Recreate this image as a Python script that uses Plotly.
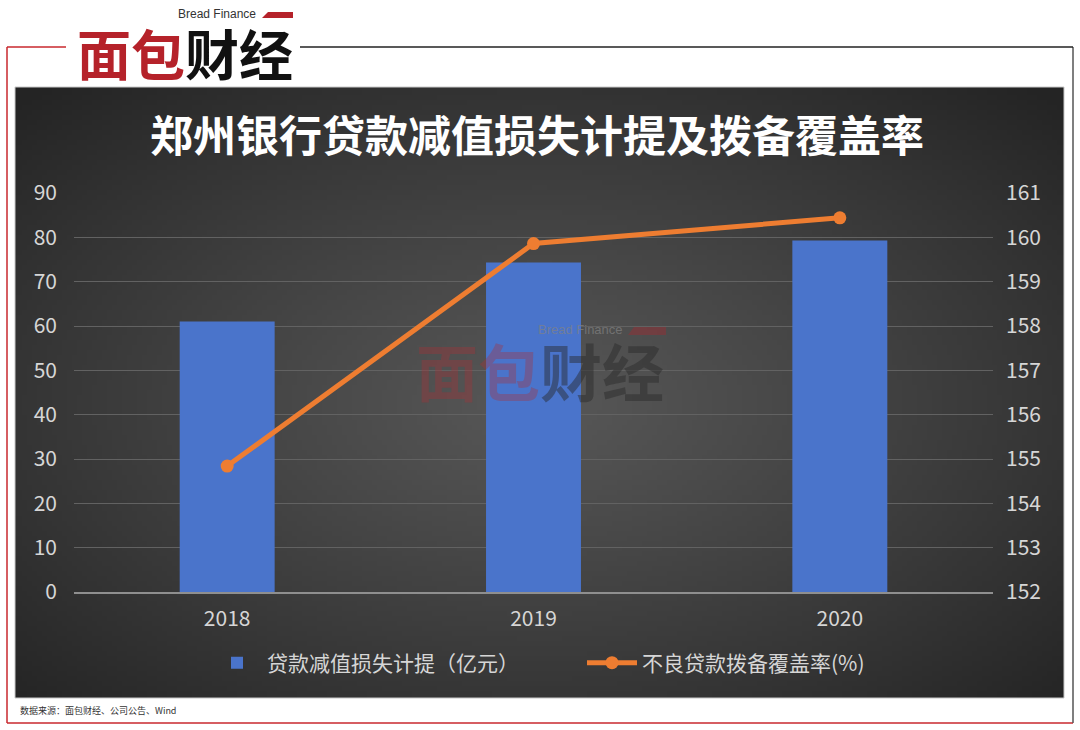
import base64, struct, zlib, math
import plotly.graph_objects as go

# ---------------- data ----------------
years = ["2018", "2019", "2020"]
impairment = [61.0, 74.3, 79.3]          # 贷款减值损失计提（亿元）
coverage = [154.84, 159.86, 160.44]      # 不良贷款拨备覆盖率(%)
left_ticks = [0, 10, 20, 30, 40, 50, 60, 70, 80, 90]
right_ticks = [152, 153, 154, 155, 156, 157, 158, 159, 160, 161]
title_text = "郑州银行贷款减值损失计提及拨备覆盖率"
bar_name = "贷款减值损失计提（亿元）"
line_name = "不良贷款拨备覆盖率(%)"
source_text = "数据来源：面包财经、公司公告、Wind"

W, H = 1080, 730
FONT = "Noto Sans CJK SC"


def px(x):
    return x / W


def py(y):
    return 1 - y / H


# ---------------- radial gradient background (PNG) ----------------
def gradient_png(w, h, c0, c1, cx=0.5, cy=0.5):
    rows = []
    for j in range(h):
        row = bytearray([0])
        for i in range(w):
            dx = (i / (w - 1) - cx) / 0.5
            dy = (j / (h - 1) - cy) / 0.5
            d = min(math.sqrt(dx * dx + dy * dy) / math.sqrt(2), 1.0)
            t = d ** 1.1
            row.append(int(round(c0 + (c1 - c0) * t)))
        rows.append(bytes(row))
    raw = b"".join(rows)

    def chunk(tag, data):
        c = struct.pack(">I", len(data)) + tag + data
        return c + struct.pack(">I", zlib.crc32(tag + data) & 0xFFFFFFFF)

    png = b"\x89PNG\r\n\x1a\n"
    png += chunk(b"IHDR", struct.pack(">IIBBBBB", w, h, 8, 0, 0, 0, 0))
    png += chunk(b"IDAT", zlib.compress(raw, 9))
    png += chunk(b"IEND", b"")
    return "data:image/png;base64," + base64.b64encode(png).decode()


bg_img = gradient_png(210, 122, 0x57, 0x24, cx=0.5, cy=0.52)

# ---------------- figure ----------------
fig = go.Figure()

fig.add_trace(go.Bar(
    x=years, y=impairment, name=bar_name,
    marker=dict(color="#4a74cb", line=dict(width=0)),
    width=0.31, yaxis="y",
))
fig.add_trace(go.Scatter(
    x=years, y=coverage, name=line_name, mode="lines+markers",
    line=dict(color="#ee7d31", width=5),
    marker=dict(color="#ee7d31", size=13),
    yaxis="y2",
))

tick_font = dict(family=FONT, size=21, color="#d6d6d6")
plot_y0, plot_y1 = py(592), py(193)

fig.update_layout(
    width=W, height=H, autosize=False,
    margin=dict(l=0, r=0, t=0, b=0, pad=0, autoexpand=False),
    paper_bgcolor="white",
    plot_bgcolor="rgba(0,0,0,0)",
    showlegend=True,
    xaxis=dict(
        domain=[px(74), px(993)], type="category",
        tickfont=tick_font, showgrid=False, ticks="",
        showline=True, linecolor="#8f8f8f", linewidth=2,
        ticklabelstandoff=7, fixedrange=True, automargin=False,
    ),
    yaxis=dict(
        domain=[plot_y0, plot_y1], range=[0, 90],
        tickvals=left_ticks, tickfont=tick_font,
        showgrid=True, gridcolor="#626262", gridwidth=1,
        zeroline=False, showline=False, ticks="",
        ticklabelstandoff=16, automargin=False,
    ),
    yaxis2=dict(
        domain=[plot_y0, plot_y1], range=[152, 161],
        tickvals=right_ticks, tickfont=tick_font,
        overlaying="y", side="right", showgrid=False,
        zeroline=False, showline=False, ticks="",
        ticklabelstandoff=12, automargin=False,
    ),
    legend=dict(
        orientation="h", x=px(207), xanchor="left", y=py(663), yanchor="middle",
        font=dict(family=FONT, size=21, color="#d6d6d6"),
        bgcolor="rgba(0,0,0,0)", itemwidth=50, tracegroupgap=0,
        entrywidth=310, entrywidthmode="pixels",
    ),
    images=[dict(
        source=bg_img, xref="paper", yref="paper",
        x=px(15), y=py(87), sizex=px(1064) - px(15), sizey=py(87) - py(698),
        xanchor="left", yanchor="top", sizing="stretch", layer="below",
    )],
)

# ---------------- frame shapes ----------------
shapes = [
    dict(type="line", xref="paper", yref="paper", x0=px(7), x1=px(7), y0=py(47), y1=py(723),
         line=dict(color="#c8282e", width=1.5)),
    dict(type="line", xref="paper", yref="paper", x0=px(7), x1=px(1073), y0=py(723), y1=py(723),
         line=dict(color="#c8282e", width=1.5)),
    dict(type="line", xref="paper", yref="paper", x0=px(1073), x1=px(1073), y0=py(47), y1=py(723),
         line=dict(color="#555555", width=1.5)),
    dict(type="line", xref="paper", yref="paper", x0=px(7), x1=px(66), y0=py(47), y1=py(47),
         line=dict(color="#c8282e", width=1.5)),
    dict(type="line", xref="paper", yref="paper", x0=px(300), x1=px(1073), y0=py(47), y1=py(47),
         line=dict(color="#222222", width=1.5)),
    dict(type="rect", xref="paper", yref="paper", x0=px(15), x1=px(1064), y0=py(698), y1=py(87),
         line=dict(color="#c8c8c8", width=1), fillcolor="rgba(0,0,0,0)", layer="below"),
    dict(type="path", xref="paper", yref="paper",
         path=f"M{px(262)},{py(18)} L{px(268)},{py(12)} L{px(293)},{py(12)} L{px(293)},{py(18)} Z",
         fillcolor="#b5222a", line=dict(width=0)),
    dict(type="path", xref="paper", yref="paper",
         path=f"M{px(628)},{py(335)} L{px(634)},{py(327)} L{px(666)},{py(327)} L{px(666)},{py(335)} Z",
         fillcolor="rgba(181,34,42,0.35)", line=dict(width=0)),
]
fig.update_layout(shapes=shapes)

# ---------------- annotations ----------------
ann = []
ann.append(dict(text=f"<b>{title_text}</b>", xref="paper", yref="paper",
                x=px(537), y=py(133), xanchor="center", yanchor="middle", showarrow=False,
                font=dict(family=FONT, size=43, color="#ffffff")))
ann.append(dict(text="Bread Finance", xref="paper", yref="paper",
                x=px(258), y=py(14), xanchor="right", yanchor="middle", showarrow=False,
                font=dict(family="Liberation Sans", size=12, color="#333333")))
ann.append(dict(text="<b><span style='color:#b5222a'>面包</span><span style='color:#111111'>财经</span></b>",
                xref="paper", yref="paper",
                x=px(185), y=py(53), xanchor="center", yanchor="middle", showarrow=False,
                font=dict(family=FONT, size=54, color="#111111")))
ann.append(dict(text="Bread Finance", xref="paper", yref="paper",
                x=px(625), y=py(329), xanchor="right", yanchor="middle", showarrow=False,
                font=dict(family="Liberation Sans", size=13, color="rgba(130,130,130,0.7)")))
ann.append(dict(text="<b><span style='color:rgba(170,50,55,0.35)'>面包</span>"
                     "<span style='color:rgba(40,40,40,0.45)'>财经</span></b>",
                xref="paper", yref="paper",
                x=px(540), y=py(370), xanchor="center", yanchor="middle", showarrow=False,
                font=dict(family=FONT, size=62, color="#333333")))
ann.append(dict(text=source_text, xref="paper", yref="paper",
                x=px(18), y=py(710), xanchor="left", yanchor="middle", showarrow=False,
                font=dict(family="Noto Sans CJK SC", size=9, color="#333333")))
fig.update_layout(annotations=ann)

post = (
    "var s=document.createElement('style');"
    "s.innerHTML='html,body{margin:0!important;padding:0!important;overflow:hidden!important;"
    "width:1080px;height:730px;}';"
    "document.head.appendChild(s);"
    "var d=document.getElementById('{plot_id}');"
    "d.style.position='absolute';d.style.top='0px';d.style.left='0px';"
)

fig.write_html("out.html", config={"displayModeBar": False}, post_script=post)
